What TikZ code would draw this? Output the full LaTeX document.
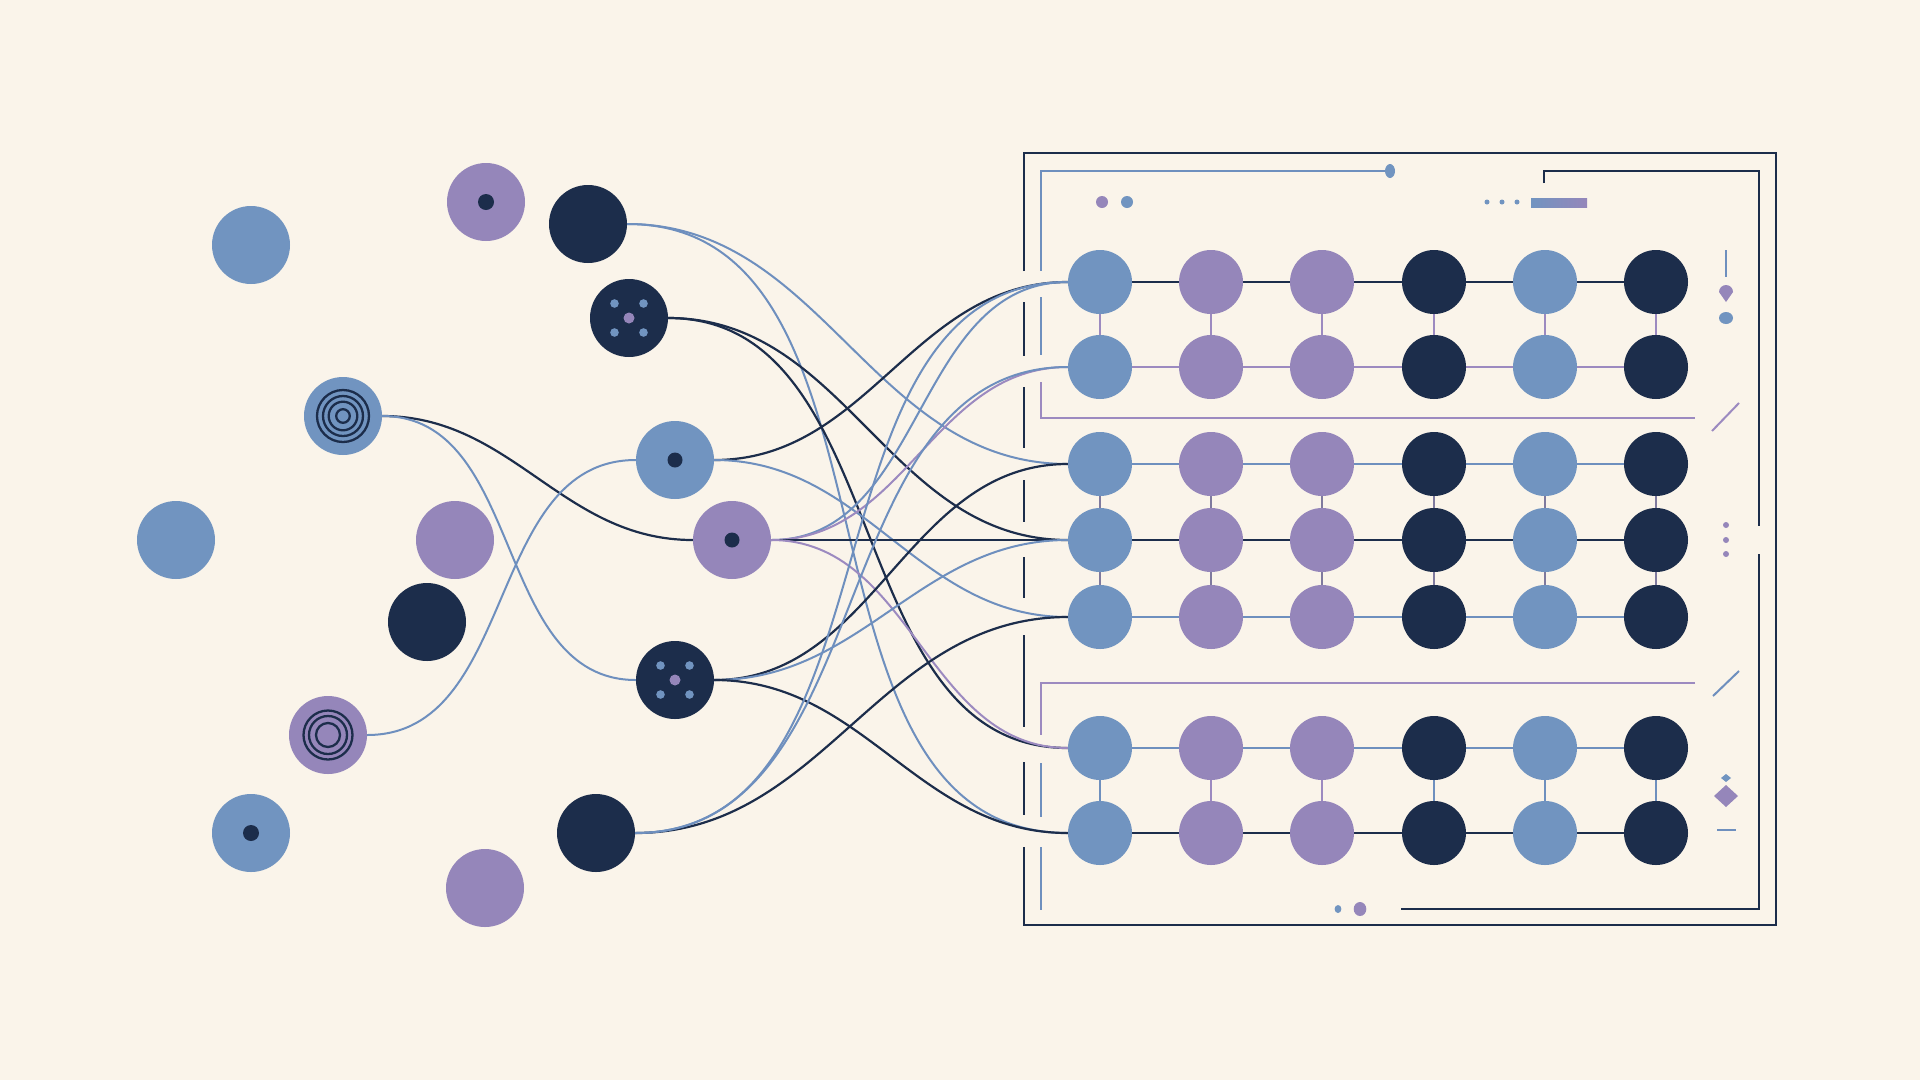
\documentclass[tikz,border=0pt]{standalone}
\usetikzlibrary{calc}
\definecolor{bgc}{HTML}{FAF4EA}
\definecolor{cblue}{HTML}{7194C0}
\definecolor{cpurple}{HTML}{9586BA}
\definecolor{cdark}{HTML}{1C2D4B}
\definecolor{lblue}{HTML}{6E8FBE}
\definecolor{lpurple}{HTML}{9C8AC0}
\definecolor{lgray}{HTML}{7F7A9E}
\pgfdeclarelayer{bgfill}
\pgfdeclarelayer{back}
\pgfsetlayers{bgfill,back,main}
\newcommand\quaddots[1]{%
  \fill[cblue] ($(#1)+(-14.5,-14.5)$) circle[radius=4.3];
  \fill[cblue] ($(#1)+(14.5,-14.5)$) circle[radius=4.3];
  \fill[cblue] ($(#1)+(-14.5,14.5)$) circle[radius=4.3];
  \fill[cblue] ($(#1)+(14.5,14.5)$) circle[radius=4.3];
  \fill[cpurple] (#1) circle[radius=5.5];}
\begin{document}
\begin{tikzpicture}[x=1pt,y=-1pt,
  big/.style={circle,inner sep=0pt,minimum size=78pt},
  gn/.style={circle,inner sep=0pt,minimum size=64pt},
  nb/.style={fill=cblue}, np/.style={fill=cpurple}, nd/.style={fill=cdark},
  cb/.style={draw=lblue,line width=2pt},
  cp/.style={draw=lpurple,line width=2pt},
  cd/.style={draw=cdark,line width=2.2pt},
  fr/.style={draw=cdark,line width=2.5pt},
  ring/.style={draw=cdark,line width=2.3pt}]
\begin{pgfonlayer}{bgfill}
\fill[bgc] (0,0) rectangle (1920,1080);
\end{pgfonlayer}
\useasboundingbox (0,0) rectangle (1920,1080);
% left nodes
\node[big,nb] (L1) at (251,245) {};
\node[big,np] (L2) at (486,202) {};
\node[big,nd] (L3) at (588,224) {};
\node[big,nd] (L4) at (629,318) {};
\node[big,nb] (L5) at (343,416) {};
\node[big,nb] (L6) at (176,540) {};
\node[big,np] (L7) at (455,540) {};
\node[big,nd] (L8) at (427,622) {};
\node[big,np] (L9) at (328,735) {};
\node[big,nb] (L10) at (251,833) {};
\node[big,np] (L11) at (485,888) {};
\node[big,nd] (L12) at (596,833) {};
\node[big,nb] (L13) at (675,460) {};
\node[big,np] (L14) at (732,540) {};
\node[big,nd] (L15) at (675,680) {};
% node details
\fill[cdark] (L2.center) circle[radius=8];
\fill[cdark] (L10.center) circle[radius=8];
\fill[cdark] (L13.center) circle[radius=7.5];
\fill[cdark] (L14.center) circle[radius=7.5];
\quaddots{L4.center}
\quaddots{L15.center}
\foreach \r in {26,20,14.3,6.8} \draw[ring] (L5.center) circle[radius=\r];
\foreach \r in {24.5,19,12} \draw[ring] (L9.center) circle[radius=\r];
% grid
\foreach \c/\x/\s in {1/1100/nb,2/1211/np,3/1322/np,4/1434/nd,5/1545/nb,6/1656/nd}{
  \foreach \r/\y in {1/282,2/367,3/464,4/540,5/617,6/748,7/833}{
    \node[gn,\s] (g\r\c) at (\x,\y) {};
  }}
\begin{pgfonlayer}{back}
% row lines
\foreach \r/\st in {1/cd,2/cp,3/cb,4/cd,5/cb,6/cb,7/cd}
  \draw[\st,line width=2pt] (g\r1.center) -- (g\r6.center);
% vertical lines
\foreach \c in {1,...,6}{
  \draw[draw=lpurple,line width=2pt] (g1\c.center) -- (g2\c.center);
  \draw[draw=lgray,line width=2pt] (g3\c.center) -- (g5\c.center);
}
\foreach \c/\col in {1/lblue,2/lpurple,3/lpurple,4/lblue,5/lblue,6/lblue}
  \draw[draw=\col,line width=2pt] (g6\c.center) -- (g7\c.center);
% frame
\draw[fr] (1024,271) -- (1024,153) -- (1776,153) -- (1776,925) -- (1024,925) -- (1024,847);
\foreach \a/\b in {302/356,387/448,480/522,557/598,635/727,762/815}
  \draw[fr] (1024,\a) -- (1024,\b);
\draw[cd] (1544,183) -- (1544,171) -- (1759,171) -- (1759,526);
\draw[cd] (1759,554) -- (1759,909) -- (1401,909);
\draw[cb] (1389,171) -- (1041,171) -- (1041,271);
\draw[cb] (1041,297) -- (1041,355);
\draw[cp] (1041,382) -- (1041,418) -- (1695,418);
\draw[cp] (1695,683) -- (1041,683) -- (1041,735);
\draw[cb] (1041,763) -- (1041,817);
\draw[cb] (1041,847) -- (1041,910);
% connectors
\draw[cb] (L3.east) to[out=0,in=180] (g31.west);
\draw[cb] (L3.east) to[out=0,in=180] (g71.west);
\draw[cd] (L4.east) to[out=0,in=180] (g41.west);
\draw[cd] (L4.east) to[out=0,in=180] (g61.west);
\draw[cd] (L5.east) to[out=0,in=180] (L14.west);
\draw[cb] (L5.east) to[out=0,in=180] (L15.west);
\draw[cb] (L9.east) to[out=0,in=180] (L13.west);
\draw[cd] (L13.east) to[out=0,in=180] (g11.west);
\draw[cb] (L13.east) to[out=0,in=180] (g51.west);
\draw[cb] (L14.east) to[out=0,in=180] (g11.west);
\draw[cp] (L14.east) to[out=0,in=180] (g21.west);
\draw[cd] (L14.east) -- (g41.west);
\draw[cp] (L14.east) to[out=0,in=180] (g61.west);
\draw[cd] (L15.east) to[out=0,in=180] (g31.west);
\draw[cb] (L15.east) to[out=0,in=180] (g41.west);
\draw[cd] (L15.east) to[out=0,in=180] (g71.west);
\draw[cd] (L12.east) to[out=0,in=180] (g51.west);
\draw[cb] (L12.east) to[out=0,in=180] (g21.west);
\draw[cb] (L12.east) to[out=0,in=180] (g11.west);
\end{pgfonlayer}
% decorations
\fill[cblue] (1390,171) ellipse[x radius=5,y radius=7];
\fill[cpurple] (1102,202) circle[radius=6];
\fill[cblue] (1127,202) circle[radius=6];
\foreach \x in {1487,1502,1517} \fill[cblue] (\x,202) circle[radius=2.5];
\shade[left color=cblue,right color=cpurple] (1531,198) rectangle (1587,207);
\draw[draw=lblue,line width=2pt] (1726,250) -- (1726,277);
\fill[cpurple] (1726,302) -- (1719,292) arc[start angle=180,end angle=360,radius=7] -- cycle;
\fill[cblue] (1726,318) ellipse[x radius=7,y radius=6];
\draw[draw=lpurple,line width=2pt] (1712,431) -- (1739,403);
\foreach \y in {525,540,554} \fill[cpurple] (1726,\y) circle[radius=3];
\draw[draw=lblue,line width=2pt] (1713,696) -- (1739,671);
\fill[cblue] (1721,778) -- (1726,774) -- (1731,778) -- (1726,782) -- cycle;
\fill[cpurple] (1714,796) -- (1726,785) -- (1738,796) -- (1726,807) -- cycle;
\draw[draw=lblue,line width=2pt] (1717,830) -- (1736,830);
\fill[cblue] (1338,909) ellipse[x radius=3.4,y radius=4];
\fill[cpurple] (1360,909) ellipse[x radius=6.3,y radius=7];
\end{tikzpicture}
\end{document}
